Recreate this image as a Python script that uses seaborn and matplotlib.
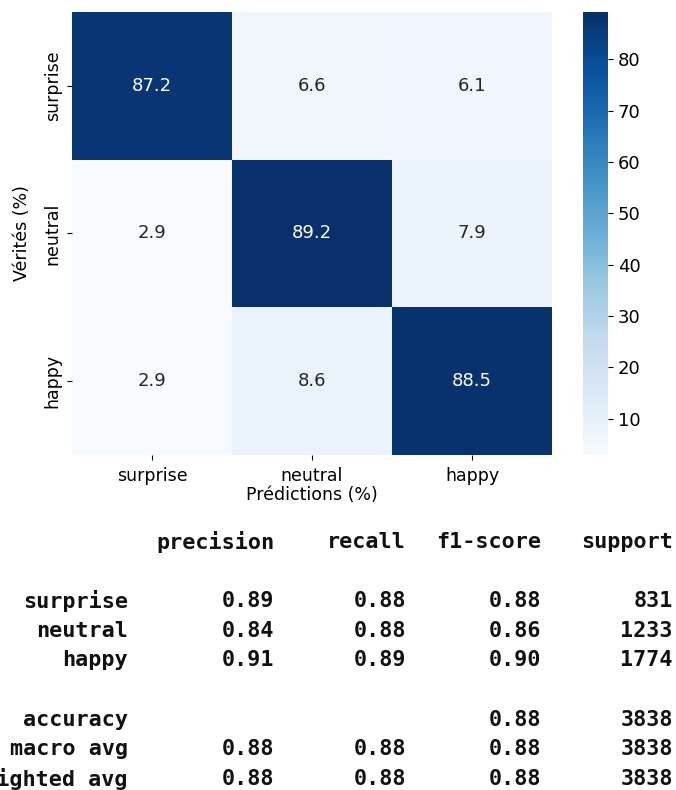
import numpy as np
import pandas as pd
import matplotlib
matplotlib.use("Agg")
import matplotlib.pyplot as plt
import seaborn as sns

# ---- data ----
classes = ["surprise", "neutral", "happy"]
row_surprise = [87.2, 6.6, 6.1]
row_neutral = [2.9, 89.2, 7.9]
row_happy = [2.9, 8.6, 88.5]

report_columns = ["precision", "recall", "f1-score", "support"]
report_labels = ["surprise", "neutral", "happy"]
precision = [0.89, 0.84, 0.91]
recall = [0.88, 0.88, 0.89]
f1_score = [0.88, 0.86, 0.90]
support = [831, 1233, 1774]
accuracy = 0.88
accuracy_support = 3838
macro_avg = [0.88, 0.88, 0.88]
weighted_avg = [0.88, 0.88, 0.88]
avg_support = [3838, 3838]

W, H = 676, 790
fig = plt.figure(figsize=(W / 100, H / 100), dpi=100)

def box(x0, y0, x1, y1):
    return [x0 / W, 1 - y1 / H, (x1 - x0) / W, (y1 - y0) / H]

ax = fig.add_axes(box(72, 12, 552, 455))
cax = fig.add_axes(box(583, 12, 608, 455))

cm = pd.DataFrame([row_surprise, row_neutral, row_happy], index=classes, columns=classes)
sns.heatmap(cm, annot=True, fmt=".1f", cmap="Blues", ax=ax, cbar_ax=cax,
            annot_kws={"fontsize": 13})
ax.set_xlabel("Prédictions (%)", fontsize=12.5, labelpad=1)
ax.set_ylabel("Vérités (%)", fontsize=12.5, labelpad=9)
ax.tick_params(axis="x", labelsize=12.5, pad=5)
ax.tick_params(axis="y", labelsize=12.5, pad=4)
cax.tick_params(labelsize=13)

# ---- classification report ----
mono = dict(family="DejaVu Sans Mono", fontweight="bold", fontsize=15.7, color="#111111")
col_right = [128, 274, 406, 541, 673]
y0, dy = 540, 29.6

def put(line, col, s):
    fig.text(col_right[col] / W, 1 - (y0 + line * dy) / H, s, ha="right",
             va="center_baseline", **mono)

for j, c in enumerate(report_columns):
    put(0, j + 1, c)

for i, lab in enumerate(report_labels):
    line = 2 + i
    put(line, 0, lab)
    put(line, 1, f"{precision[i]:.2f}")
    put(line, 2, f"{recall[i]:.2f}")
    put(line, 3, f"{f1_score[i]:.2f}")
    put(line, 4, f"{support[i]}")

put(6, 0, "accuracy")
put(6, 3, f"{accuracy:.2f}")
put(6, 4, f"{accuracy_support}")

for k, (lab, vals) in enumerate([("macro avg", macro_avg), ("weighted avg", weighted_avg)]):
    line = 7 + k
    put(line, 0, lab)
    for j, v in enumerate(vals):
        put(line, j + 1, f"{v:.2f}")
    put(line, 4, f"{avg_support[k]}")

fig.savefig("out.png", dpi=100)
